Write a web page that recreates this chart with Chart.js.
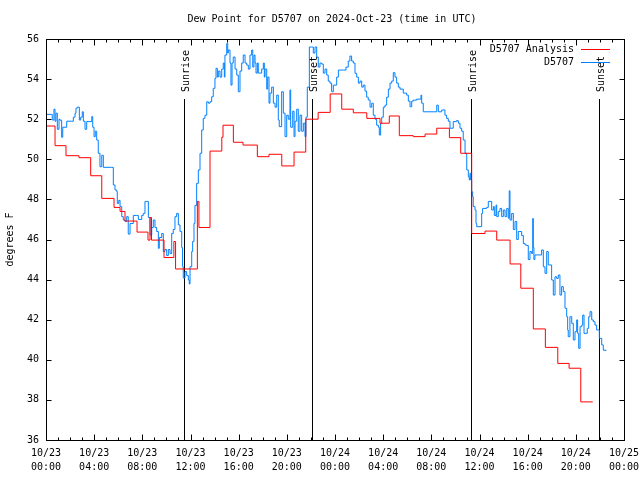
<!DOCTYPE html>
<html>
<head>
<meta charset="utf-8">
<script src="https://cdn.jsdelivr.net/npm/chart.js@4.4.1/dist/chart.umd.min.js"></script>
<style>
  html, body { margin: 0; padding: 0; background: #fff; }
</style>
</head>
<body>
<canvas id="dew" width="640" height="480"></canvas>
<script>
// time axis is hours since 10/23 00:00 UTC
var analysisHours = [0, 0.75, 1.66, 2.74, 3.71, 4.63, 5.65, 6.15, 6.56, 7.56, 8.47, 8.64, 8.76, 9.8, 10.62, 10.76,
    12.57, 12.7, 13.62, 14.6, 14.7, 15.56, 16.36, 17.55, 18.52, 19.58, 20.6, 21.57, 22.6, 23.6, 24.56, 25.52,
    26.64, 27.74, 28.51, 29.34, 30.5, 31.48, 32.45, 33.5, 34.44, 35.35, 36.46, 37.43, 38.54, 39.43, 40.47,
    41.47, 42.5, 43.44, 44.41, 45.4];
var analysisValues = [51.66, 50.68, 50.18, 50.08, 49.18, 48.05, 47.6, 47.4, 46.92, 46.37, 45.97, 47.1, 45.97, 45.1, 45.9, 44.53,
    47.9, 46.6, 50.41, 51.1, 51.7, 50.85, 50.71, 50.13, 50.25, 49.67, 50.36, 52.0, 52.34, 53.26, 52.5, 52.32,
    52.04, 51.8, 52.16, 51.18, 51.13, 51.26, 51.55, 51.08, 50.3, 46.3, 46.42, 45.97, 44.78, 43.57, 41.54,
    40.62, 39.82, 39.58, 37.9, 37.9];

var obsHours = [0.06, 0.42, 0.52, 0.66, 0.75, 0.83, 0.94, 1.08, 1.16, 1.30, 1.39, 1.72, 2.13, 2.27, 2.41, 2.49, 2.60,
    2.77, 2.88, 3.01, 3.10, 3.24, 3.38, 3.65, 3.80, 3.88, 3.99, 4.09, 4.21, 4.34, 4.48, 4.63, 4.76, 5.46, 5.59,
    5.73, 5.87, 5.92, 6.04, 6.15, 6.29, 6.42, 6.56, 6.70, 6.83, 6.98, 7.25, 7.53, 7.67, 7.95, 8.08, 8.22, 8.36,
    8.50, 8.64, 8.78, 8.91, 9.05, 9.19, 9.33, 9.41, 9.61, 9.74, 9.88, 10.02, 10.16, 10.30, 10.44, 10.57, 10.71,
    10.85, 10.99, 11.13, 11.27, 11.34, 11.40, 11.54, 11.68, 11.82, 11.90, 11.96, 12.10, 12.18, 12.29, 12.37,
    12.51, 12.65, 12.79, 12.93, 13.06, 13.20, 13.35, 13.48, 13.62, 13.76, 13.89, 14.03, 14.12, 14.23, 14.31,
    14.45, 14.59, 14.72, 14.81, 14.86, 15.01, 15.09, 15.14, 15.28, 15.36, 15.45, 15.55, 15.70, 15.84, 15.97,
    16.11, 16.25, 16.38, 16.53, 16.67, 16.80, 16.94, 17.08, 17.17, 17.27, 17.36, 17.44, 17.55, 17.63, 17.77,
    17.91, 18.05, 18.13, 18.19, 18.33, 18.41, 18.52, 18.60, 18.74, 18.88, 19.02, 19.16, 19.29, 19.37, 19.57,
    19.71, 19.85, 19.99, 20.12, 20.26, 20.32, 20.49, 20.60, 20.68, 20.82, 20.95, 21.09, 21.23, 21.37, 21.51,
    21.59, 21.70, 21.87, 22.06, 22.20, 22.34, 22.48, 22.61, 22.75, 22.89, 23.03, 23.17, 23.31, 23.44, 23.58,
    23.72, 23.86, 24.14, 24.28, 24.69, 24.91, 25.10, 25.24, 25.38, 25.52, 25.66, 25.80, 25.94, 26.08, 26.22,
    26.35, 26.49, 26.63, 26.76, 26.91, 27.05, 27.18, 27.32, 27.46, 27.60, 27.68, 27.79, 27.88, 28.01, 28.15,
    28.29, 28.43, 28.57, 28.71, 28.84, 28.98, 29.12, 29.26, 29.40, 29.67, 29.95, 30.09, 30.23, 30.37, 30.50,
    30.78, 31.06, 31.14, 31.20, 31.33, 32.16, 32.45, 32.58, 32.86, 33.13, 33.27, 33.41, 33.55, 33.82, 34.10,
    34.24, 34.38, 34.52, 34.65, 34.80, 34.94, 35.07, 35.15, 35.21, 35.27, 35.35, 35.43, 35.48, 35.63, 35.71,
    35.77, 36.04, 36.18, 36.26, 36.60, 36.73, 36.87, 37.01, 37.15, 37.23, 37.37, 37.43, 37.56, 37.70, 37.84,
    37.98, 38.12, 38.26, 38.39, 38.47, 38.53, 38.67, 38.81, 38.95, 39.09, 39.22, 39.36, 39.50, 39.64, 39.78,
    39.92, 40.05, 40.19, 40.33, 40.42, 40.47, 40.52, 40.60, 41.02, 41.16, 41.30, 41.44, 41.58, 41.71, 41.85,
    41.99, 42.13, 42.27, 42.41, 42.54, 42.68, 42.82, 42.96, 43.10, 43.24, 43.32, 43.37, 43.51, 43.66, 43.79,
    43.93, 44.07, 44.15, 44.24, 44.35, 44.49, 44.57, 44.68, 44.84, 44.95, 45.07, 45.18, 45.32, 45.45, 45.59,
    45.73, 45.95, 46.15, 46.28, 46.50];
var obsValues = [52.24, 52.24, 51.96, 52.5, 51.9, 52.3, 51.5, 52.0, 51.95, 51.1, 51.6, 51.9, 51.9, 52.1, 52.3, 52.55, 52.6,
    51.96, 52.1, 52.37, 51.9, 51.5, 51.88, 51.88, 52.13, 51.6, 51.13, 51.4, 50.96, 50.3, 49.63, 50.2, 49.6, 49.6, 48.72,
    48.47, 48.4, 47.8, 47.95, 47.64, 47.14, 46.97, 46.9, 47.14, 46.27, 46.8, 47.2, 47.2, 47.0, 47.2, 47.3, 47.9, 47.9,
    47.1, 46.22, 46.6, 46.97, 46.6, 46.4, 45.56, 46.1, 46.3, 45.4, 45.5, 45.2, 45.5, 45.3, 46.3, 46.5, 47.14,
    47.3, 46.73, 46.4, 45.6, 44.64, 44.08, 44.4, 44.2, 43.98, 43.78, 44.64, 45.4, 45.9, 46.8, 47.7,
    48.8, 49.47, 50.3, 51.46, 52.04, 52.2, 52.87, 52.8, 52.87, 53.12, 53.54, 54.04, 54.54, 54.1, 54.4,
    54.1, 54.5, 54.8, 54.1, 55.2, 55.78, 55.3, 55.45, 54.8, 53.7, 54.8, 55.1, 54.5, 54.2, 53.37,
    54.4, 54.8, 55.2, 54.8, 54.7, 54.5, 55.2, 55.45, 54.6, 55.2, 54.8, 54.3, 54.8, 54.3, 54.3,
    54.5, 54.8, 54.1, 54.5, 53.5, 54.1, 52.8, 53.3, 53.6, 52.8, 52.6, 53.2, 51.96, 51.63, 53.37,
    52.3, 51.13, 52.2, 52.0, 53.46, 51.6, 52.4, 51.13, 51.9, 52.5, 51.4, 52.2, 51.4, 51.8, 51.13,
    52.1, 53.6, 55.6, 55.6, 55.3, 55.6, 55.1, 54.6, 54.8, 54.75, 54.3, 54.5, 54.2, 53.9, 53.8,
    53.37, 53.7, 54.1, 54.45, 54.45, 54.6, 54.9, 55.15, 54.9, 54.8, 54.29, 54.1, 53.8, 53.9, 53.6,
    53.7, 53.4, 53.1, 52.96, 52.6, 52.8, 52.2, 52.0, 51.7, 51.6, 51.21, 51.8, 52.1, 52.6, 52.7,
    53.1, 53.5, 53.8, 53.9, 54.32, 54.1, 53.8, 53.6, 53.5, 53.3, 53.2, 52.9, 52.62, 52.9, 52.95,
    53.0, 53.0, 53.2, 52.8, 52.37, 52.37, 52.7, 52.37, 52.46, 52.2, 52.04, 51.9, 51.55, 51.88, 51.93,
    51.8, 51.55, 51.4, 50.96, 50.3, 49.47, 49.13, 48.97, 49.3, 48.97, 48.38, 48.13, 47.64, 47.47, 46.8,
    46.64, 46.64, 47.3, 47.55, 47.6, 47.9, 47.9, 47.47, 47.64, 47.2, 47.72, 47.14, 47.39, 47.55, 47.14,
    47.47, 47.14, 47.55, 47.06, 48.43, 46.97, 47.3, 46.5, 46.9, 46.0, 46.4, 46.4, 46.2, 45.8, 45.73,
    45.7, 45.0, 45.4, 45.3, 47.05, 45.6, 45.0, 45.23, 45.23, 45.48, 44.64, 44.31, 45.4, 44.73, 44.73,
    43.98, 43.23, 44.14, 44.06, 44.23, 43.23, 43.65, 43.4, 42.57, 42.15, 41.49, 41.15, 42.15, 41.82, 40.99,
    41.4, 41.99, 41.32, 40.57, 41.65, 41.73, 42.23, 41.32, 41.32, 41.57, 42.15, 42.4, 41.99, 41.9, 41.73,
    41.49, 41.07, 40.74, 40.48, 40.44];

var sunHours = [11.48, 22.1, 35.32, 45.95];
var sunLabels = ['Sunrise', 'Sunset', 'Sunrise', 'Sunset'];

var xTickLabels = [
    ['10/23', '00:00'], ['10/23', '04:00'], ['10/23', '08:00'], ['10/23', '12:00'],
    ['10/23', '16:00'], ['10/23', '20:00'], ['10/24', '00:00'], ['10/24', '04:00'],
    ['10/24', '08:00'], ['10/24', '12:00'], ['10/24', '16:00'], ['10/24', '20:00'],
    ['10/25', '00:00']
];

var MONO = '"DejaVu Sans Mono", monospace';
var FONT = '10px ' + MONO;

function pairs(xs, ys) {
    return xs.map(function (x, i) { return { x: x, y: ys[i] }; });
}

// gnuplot-ish frame, inward ticks, sun markers, legend and title
var gnuFrame = {
    id: 'gnuFrame',
    beforeDatasetsDraw: function (chart) {
        var ctx = chart.ctx, area = chart.chartArea, xs = chart.scales.x;
        ctx.save();
        ctx.strokeStyle = '#000';
        ctx.lineWidth = 1;
        sunHours.forEach(function (h) {
            var px = Math.round(xs.getPixelForValue(h)) + 0.5;
            ctx.beginPath();
            ctx.moveTo(px, 99);
            ctx.lineTo(px, area.bottom);
            ctx.stroke();
        });
        ctx.restore();
    },
    afterDatasetsDraw: function (chart) {
        var ctx = chart.ctx, a = chart.chartArea;
        var xs = chart.scales.x, ys = chart.scales.y;
        var L = Math.round(a.left) + 0.5, R = Math.round(a.right) + 0.5;
        var T = Math.round(a.top) + 0.5, B = Math.round(a.bottom) + 0.5;
        ctx.save();
        ctx.strokeStyle = '#000';
        ctx.lineWidth = 1;
        ctx.strokeRect(L, T, R - L, B - T);

        ctx.beginPath();
        for (var h = 0; h <= 48; h++) {
            var px = Math.round(xs.getPixelForValue(h)) + 0.5;
            var len = (h % 4 === 0) ? 6 : 3;
            ctx.moveTo(px, B); ctx.lineTo(px, B - len);
            ctx.moveTo(px, T); ctx.lineTo(px, T + len);
        }
        for (var v = 36; v <= 56; v += 2) {
            var py = Math.round(ys.getPixelForValue(v)) + 0.5;
            ctx.moveTo(L, py); ctx.lineTo(L + 5, py);
            ctx.moveTo(R, py); ctx.lineTo(R - 5, py);
        }
        ctx.stroke();

        ctx.fillStyle = '#000';
        ctx.font = FONT;

        // sunrise / sunset labels
        sunHours.forEach(function (hr, i) {
            var px = Math.round(xs.getPixelForValue(hr)) + 2;
            ctx.save();
            ctx.translate(px, 92);
            ctx.rotate(-Math.PI / 2);
            ctx.textAlign = 'left';
            ctx.textBaseline = 'middle';
            ctx.fillText(sunLabels[i], 0, 0);
            ctx.restore();
        });

        // title
        ctx.textAlign = 'center';
        ctx.textBaseline = 'middle';
        ctx.fillText('Dew Point for D5707 on 2024-Oct-23 (time in UTC)', 332, 19);

        // legend
        chart.data.datasets.forEach(function (ds, i) {
            var y = 49.5 + i * 13;
            ctx.textAlign = 'right';
            ctx.fillStyle = '#000';
            ctx.fillText(ds.label, 574, y);
            ctx.strokeStyle = ds.borderColor;
            ctx.beginPath();
            ctx.moveTo(581, y);
            ctx.lineTo(610, y);
            ctx.stroke();
        });
        ctx.restore();
    }
};

var ctx = document.getElementById('dew').getContext('2d');
var chart = new Chart(ctx, {
    type: 'line',
    data: {
        datasets: [{
            label: 'D5707 Analysis',
            data: pairs(analysisHours, analysisValues),
            borderColor: '#ff0000',
            borderWidth: 1,
            stepped: true,
            pointRadius: 0,
            fill: false
        }, {
            label: 'D5707',
            data: pairs(obsHours, obsValues),
            borderColor: '#0080ff',
            borderWidth: 1,
            stepped: true,
            pointRadius: 0,
            fill: false
        }]
    },
    options: {
        responsive: false,
        animation: false,
        devicePixelRatio: 1,
        layout: { padding: { top: 39, right: 16, left: 0, bottom: 0 } },
        plugins: {
            legend: { display: false },
            title: { display: false },
            tooltip: { enabled: false }
        },
        scales: {
            x: {
                type: 'linear',
                min: 0,
                max: 48,
                grid: { display: false, drawTicks: false },
                border: { display: false },
                ticks: {
                    stepSize: 4,
                    autoSkip: false,
                    maxRotation: 0,
                    padding: 6,
                    color: '#000',
                    font: { family: MONO, size: 10, lineHeight: 1.4 },
                    callback: function (v) { return xTickLabels[Math.round(v / 4)]; }
                },
                afterFit: function (s) {
                    s.height = 40;
                    s.paddingLeft = 0;
                    s.paddingRight = 0;
                }
            },
            y: {
                min: 36,
                max: 56,
                grid: { display: false, drawTicks: false },
                border: { display: false },
                ticks: {
                    stepSize: 2,
                    padding: 7,
                    color: '#000',
                    font: { family: MONO, size: 10 }
                },
                title: {
                    display: true,
                    text: 'degrees F',
                    color: '#000',
                    font: { family: MONO, size: 10 },
                    padding: { top: 4, bottom: 0 }
                },
                afterFit: function (s) { s.width = 46; }
            }
        }
    },
    plugins: [gnuFrame]
});
</script>
</body>
</html>
